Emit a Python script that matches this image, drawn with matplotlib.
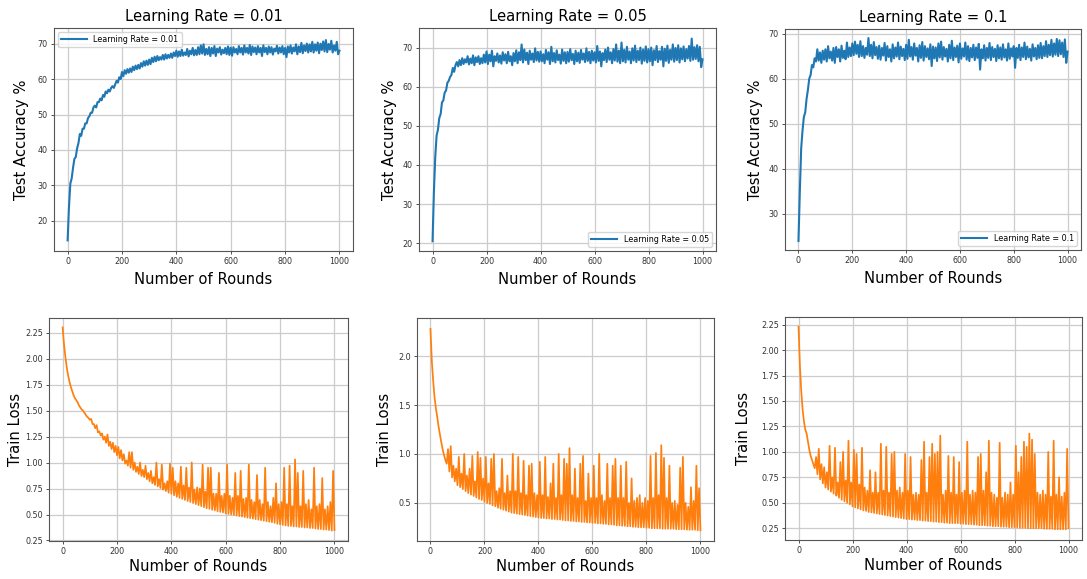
import numpy as np
import matplotlib
matplotlib.use("Agg")
import matplotlib.pyplot as plt

# rounds sampled every 5 rounds
rounds = list(range(0, 1001, 5))

learning_rates = ["0.01", "0.05", "0.1"]

# === Test accuracy (%) ===
acc_lr001 = [
    14.5, 24.0, 30.5, 32.0, 35.0, 37.5, 38.0, 40.5, 42.0, 44.5, 44.0, 46.0, 46.0, 47.5, 47.5, 49.0, 49.5, 50.5, 50.5, 52.0,
    52.5, 52.0, 53.5, 53.5, 54.5, 54.0, 55.5, 55.0, 56.5, 56.0, 57.0, 56.5, 57.5, 58.0, 57.5, 58.5, 59.5, 59.0, 60.5, 60.0,
    62.0, 60.8, 62.5, 61.5, 62.8, 61.8, 63.0, 62.0, 63.5, 62.5, 63.8, 62.8, 64.0, 63.0, 64.5, 63.5, 65.0, 63.8, 65.2, 64.0,
    65.5, 64.2, 66.0, 64.8, 66.3, 65.0, 66.5, 65.3, 66.2, 65.5, 66.8, 65.5, 67.0, 65.8, 66.8, 66.0, 67.2, 66.0, 67.5, 66.5,
    68.0, 66.3, 67.8, 66.5, 68.3, 66.6, 67.5, 66.8, 68.5, 66.4, 68.0, 67.0, 68.8, 66.7, 68.2, 66.8, 69.0, 67.0, 69.5, 67.2,
    69.8, 66.8, 68.5, 67.0, 69.0, 66.5, 68.8, 67.2, 69.3, 66.5, 68.6, 67.5, 69.0, 66.9, 68.3, 67.3, 68.8, 67.0, 69.2, 66.8,
    68.9, 66.6, 69.0, 67.5, 68.5, 67.0, 69.3, 67.5, 68.8, 66.9, 69.5, 67.5, 68.8, 67.2, 69.6, 66.8, 69.2, 67.6, 68.9, 67.0,
    69.3, 67.5, 68.8, 66.5, 69.5, 67.6, 68.8, 67.0, 69.2, 67.5, 69.0, 66.9, 68.6, 67.8, 69.4, 67.2, 68.9, 67.5, 69.3, 67.0,
    68.8, 66.2, 69.2, 67.5, 69.5, 67.2, 68.9, 67.8, 69.8, 67.0, 69.2, 67.6, 70.2, 67.3, 69.5, 67.9, 70.0, 67.5, 69.8, 67.8,
    70.5, 67.5, 69.8, 68.0, 70.3, 67.3, 70.0, 68.2, 70.6, 67.8, 71.0, 67.6, 69.9, 68.3, 70.8, 67.5, 69.5, 68.0, 70.5, 67.0,
    68.0,
]

acc_lr005 = [
    20.5, 33.0, 42.0, 47.5, 49.0, 52.0, 53.0, 56.0, 56.5, 58.5, 59.0, 61.0, 61.5, 62.5, 63.0, 64.8, 63.8, 65.5, 66.3, 65.2,
    66.8, 65.5, 67.3, 65.8, 67.0, 66.2, 67.8, 65.7, 67.2, 66.0, 68.0, 65.5, 67.5, 66.3, 67.8, 65.8, 67.3, 66.0, 68.2, 66.2,
    69.0, 65.8, 68.2, 66.5, 69.2, 65.2, 67.8, 66.6, 68.5, 66.2, 68.0, 65.9, 68.8, 66.7, 68.3, 66.0, 68.9, 66.5, 67.8, 65.5,
    68.6, 66.5, 69.3, 66.0, 68.8, 66.8, 70.8, 66.2, 69.5, 66.8, 68.7, 65.8, 69.2, 66.9, 68.5, 66.3, 69.8, 66.7, 68.9, 66.4,
    69.0, 66.5, 68.3, 66.0, 69.4, 66.9, 68.8, 65.8, 70.2, 66.5, 68.6, 66.2, 69.3, 66.8, 68.2, 65.9, 69.5, 66.6, 68.8, 66.0,
    68.9, 66.4, 69.6, 66.8, 68.4, 65.8, 69.2, 66.5, 68.7, 66.1, 69.4, 66.9, 68.5, 66.3, 69.8, 66.6, 68.9, 66.0, 69.2, 66.7,
    68.8, 66.2, 70.4, 66.6, 69.0, 65.2, 68.6, 66.8, 69.5, 66.3, 70.0, 66.9, 68.8, 66.0, 69.6, 66.7, 70.8, 66.4, 69.2, 66.0,
    71.3, 66.5, 69.4, 66.2, 70.2, 66.9, 69.0, 66.0, 69.8, 66.7, 70.5, 66.3, 69.2, 66.8, 70.0, 65.9, 69.5, 66.6, 70.3, 66.2,
    69.6, 66.5, 70.0, 65.5, 69.3, 66.8, 70.4, 66.3, 69.1, 66.9, 70.2, 65.2, 69.7, 66.6, 70.5, 66.1, 69.4, 66.9, 70.8, 66.4,
    69.9, 66.8, 70.6, 66.2, 69.8, 67.0, 70.3, 66.5, 69.6, 67.2, 70.4, 66.6, 72.3, 66.9, 70.1, 67.1, 70.6, 66.5, 70.2, 65.0,
    67.0,
]

acc_lr01 = [
    24.0, 35.0, 44.5, 48.5, 51.5, 52.5, 55.5, 57.5, 60.0, 60.8, 63.0, 62.5, 64.5, 63.8, 66.5, 64.0, 65.8, 63.5, 66.2, 64.2,
    66.5, 63.8, 67.2, 64.5, 66.0, 64.0, 66.8, 63.5, 67.0, 64.8, 66.5, 63.8, 67.3, 64.6, 66.2, 64.3, 68.0, 64.8, 66.9, 65.0,
    67.8, 65.2, 68.2, 65.5, 67.5, 64.8, 68.3, 65.0, 67.2, 64.6, 66.8, 65.3, 69.0, 65.0, 67.5, 64.5, 68.1, 65.2, 67.0, 64.4,
    67.3, 64.2, 66.8, 65.1, 67.9, 64.0, 67.2, 64.8, 66.5, 63.8, 67.6, 64.5, 66.9, 64.9, 68.0, 64.3, 67.1, 65.0, 66.6, 64.1,
    67.5, 64.4, 68.6, 64.9, 67.0, 64.2, 67.8, 65.1, 66.8, 63.8, 67.4, 64.6, 68.1, 64.0, 67.2, 64.8, 66.7, 64.3, 67.6, 62.8,
    67.1, 64.5, 66.9, 63.9, 67.8, 64.7, 68.2, 64.2, 67.0, 64.9, 66.6, 63.8, 67.5, 64.5, 68.4, 64.1, 66.9, 64.8, 67.3, 63.6,
    67.8, 64.4, 66.7, 64.9, 68.0, 64.2, 67.2, 63.9, 66.8, 64.7, 67.5, 64.1, 66.9, 64.6, 67.7, 62.0, 66.5, 64.5, 67.4, 64.0,
    66.8, 64.6, 67.9, 64.1, 67.0, 64.8, 66.6, 63.9, 67.4, 64.5, 66.9, 64.2, 67.6, 64.7, 66.5, 64.0, 67.8, 64.4, 66.7, 64.9,
    67.2, 62.4, 66.8, 64.6, 67.5, 64.1, 66.9, 64.8, 68.0, 64.3, 67.1, 64.7, 66.6, 64.0, 67.6, 64.9, 66.8, 64.3, 67.4, 64.6,
    67.9, 64.5, 67.2, 65.0, 68.3, 64.8, 67.5, 65.2, 68.6, 64.9, 67.8, 65.3, 68.8, 65.0, 68.5, 65.4, 68.0, 64.8, 68.7, 63.5,
    66.0,
]

# === Train loss ===
loss_lr001 = [
    2.30, 2.14, 2.02, 1.92, 1.84, 1.78, 1.73, 1.69, 1.65, 1.62, 1.60, 1.58, 1.55, 1.53, 1.51, 1.50, 1.48, 1.46, 1.44, 1.43,
    1.41, 1.42, 1.37, 1.37, 1.33, 1.36, 1.29, 1.30, 1.26, 1.28, 1.22, 1.25, 1.19, 1.27, 1.16, 1.20, 1.13, 1.19, 1.10, 1.16,
    1.07, 1.15, 1.04, 1.12, 1.02, 1.08, 0.99, 1.02, 0.97, 1.10, 0.95, 1.10, 0.93, 1.00, 0.91, 0.96, 0.89, 1.00, 0.87, 0.93,
    0.86, 0.97, 0.84, 0.90, 0.82, 0.92, 0.80, 0.86, 0.785, 1.00, 0.77, 0.84, 0.755, 0.98, 0.74, 0.80, 0.725, 0.82, 0.71, 0.99,
    0.70, 0.95, 0.685, 0.82, 0.67, 0.80, 0.66, 0.96, 0.65, 0.78, 0.64, 0.95, 0.63, 0.76, 0.62, 1.00, 0.61, 0.74, 0.60, 0.76,
    0.59, 0.75, 0.58, 0.98, 0.57, 0.72, 0.56, 0.95, 0.555, 0.95, 0.545, 0.70, 0.54, 0.70, 0.53, 0.90, 0.525, 0.68, 0.52, 0.70,
    0.51, 0.98, 0.505, 0.68, 0.50, 0.66, 0.495, 0.90, 0.49, 0.68, 0.485, 0.92, 0.48, 0.65, 0.475, 0.66, 0.47, 0.98, 0.465, 0.64,
    0.46, 0.62, 0.455, 0.88, 0.45, 0.64, 0.445, 0.60, 0.44, 0.95, 0.435, 0.62, 0.43, 0.58, 0.425, 0.66, 0.42, 0.80, 0.41, 0.60,
    0.405, 0.62, 0.40, 0.95, 0.395, 0.60, 0.39, 0.97, 0.39, 0.58, 0.385, 1.03, 0.385, 0.90, 0.38, 0.58, 0.38, 0.92, 0.375, 0.60,
    0.375, 0.64, 0.37, 0.55, 0.37, 0.95, 0.365, 0.58, 0.36, 0.60, 0.36, 0.85, 0.355, 0.55, 0.355, 0.58, 0.35, 0.62, 0.345, 0.92,
    0.35,
]

loss_lr005 = [
    2.28, 1.95, 1.75, 1.58, 1.47, 1.38, 1.28, 1.20, 1.12, 1.05, 0.99, 0.94, 0.90, 1.05, 0.82, 1.08, 0.76, 0.88, 0.72, 0.85,
    0.68, 0.97, 0.66, 0.80, 0.64, 1.00, 0.62, 0.78, 0.60, 0.85, 0.585, 0.98, 0.57, 0.72, 0.555, 1.02, 0.54, 0.96, 0.53, 0.75,
    0.51, 0.97, 0.50, 0.70, 0.49, 0.95, 0.475, 1.00, 0.465, 0.62, 0.45, 0.65, 0.44, 0.95, 0.43, 0.60, 0.42, 0.78, 0.41, 0.62,
    0.40, 1.00, 0.395, 0.62, 0.39, 0.97, 0.385, 0.60, 0.38, 0.93, 0.375, 0.58, 0.37, 0.88, 0.365, 0.90, 0.36, 0.60, 0.355, 0.58,
    0.35, 0.92, 0.345, 0.58, 0.345, 0.97, 0.34, 0.56, 0.34, 0.70, 0.335, 0.90, 0.335, 0.55, 0.33, 1.00, 0.33, 0.58, 0.325, 0.95,
    0.32, 0.90, 0.32, 1.06, 0.315, 0.58, 0.315, 0.85, 0.31, 0.55, 0.31, 0.90, 0.305, 0.98, 0.305, 0.52, 0.30, 0.80, 0.30, 0.55,
    0.295, 0.88, 0.295, 0.55, 0.29, 1.00, 0.29, 0.58, 0.285, 0.52, 0.285, 0.90, 0.28, 0.55, 0.28, 0.88, 0.275, 0.95, 0.27, 0.55,
    0.27, 0.88, 0.265, 0.55, 0.265, 0.92, 0.26, 0.50, 0.26, 0.75, 0.255, 0.52, 0.255, 0.55, 0.25, 0.58, 0.25, 0.50, 0.25, 0.55,
    0.245, 0.52, 0.245, 0.98, 0.24, 0.55, 0.24, 1.01, 0.24, 0.58, 0.24, 1.09, 0.235, 0.96, 0.235, 0.55, 0.235, 0.88, 0.235, 0.50,
    0.235, 0.52, 0.23, 0.48, 0.23, 0.86, 0.23, 0.97, 0.23, 0.50, 0.225, 0.46, 0.225, 0.66, 0.225, 0.52, 0.225, 0.88, 0.22, 0.65,
    0.22,
]

loss_lr01 = [
    2.23, 1.85, 1.60, 1.42, 1.30, 1.22, 1.18, 1.10, 1.02, 0.96, 0.92, 0.88, 0.84, 0.95, 0.78, 1.03, 0.73, 0.88, 0.69, 0.85,
    0.65, 0.80, 0.63, 1.06, 0.61, 0.75, 0.59, 1.04, 0.57, 0.70, 0.55, 0.90, 0.53, 1.00, 0.515, 0.72, 0.50, 1.11, 0.485, 0.70,
    0.465, 1.02, 0.455, 0.98, 0.445, 0.68, 0.435, 1.04, 0.425, 0.65, 0.42, 0.62, 0.41, 0.82, 0.405, 0.60, 0.40, 0.80, 0.395, 0.60,
    0.39, 1.08, 0.385, 0.62, 0.38, 1.05, 0.375, 0.60, 0.37, 0.98, 0.365, 1.00, 0.36, 0.62, 0.355, 0.65, 0.35, 0.60, 0.345, 0.98,
    0.34, 0.62, 0.34, 0.95, 0.335, 0.58, 0.335, 0.60, 0.33, 0.58, 0.33, 0.92, 0.325, 1.10, 0.325, 0.60, 0.32, 0.95, 0.32, 1.08,
    0.315, 0.98, 0.315, 1.00, 0.31, 1.16, 0.31, 0.58, 0.305, 0.62, 0.305, 0.96, 0.30, 0.60, 0.30, 0.95, 0.30, 0.58, 0.30, 0.90,
    0.295, 0.60, 0.295, 0.62, 0.29, 1.10, 0.29, 0.58, 0.29, 0.62, 0.285, 0.60, 0.285, 0.95, 0.28, 0.98, 0.28, 0.62, 0.28, 0.80,
    0.275, 1.11, 0.275, 0.60, 0.27, 0.58, 0.27, 0.55, 0.27, 1.09, 0.265, 0.55, 0.265, 0.60, 0.265, 0.58, 0.26, 0.70, 0.26, 0.58,
    0.26, 1.06, 0.26, 0.80, 0.255, 0.95, 0.255, 1.10, 0.255, 1.05, 0.25, 1.18, 0.25, 1.12, 0.25, 0.98, 0.25, 0.60, 0.25, 0.58,
    0.25, 0.62, 0.245, 0.58, 0.245, 1.00, 0.245, 0.56, 0.245, 1.11, 0.24, 0.58, 0.24, 0.75, 0.24, 0.56, 0.24, 0.60, 0.24, 1.03,
    0.25,
]

acc_series = [acc_lr001, acc_lr005, acc_lr01]
loss_series = [loss_lr001, loss_lr005, loss_lr01]

# panel boxes in figure fractions: [left, bottom, width, height]
acc_boxes = [[0.0497, 0.5665, 0.2751, 0.3851],
             [0.3855, 0.5665, 0.2732, 0.3851],
             [0.7222, 0.5682, 0.2723, 0.3817]]
loss_boxes = [[0.0451, 0.0656, 0.2751, 0.3851],
              [0.3836, 0.0656, 0.2732, 0.3851],
              [0.7222, 0.0674, 0.2732, 0.3851]]
acc_ylims = [(11.5, 74.4), (18.0, 75.0), (22.0, 71.0)]
loss_ylims = [(0.245, 2.39), (0.11, 2.39), (0.135, 2.325)]
acc_yticks = [[20, 30, 40, 50, 60, 70], [20, 30, 40, 50, 60, 70], [30, 40, 50, 60, 70]]
loss_yticks = [[0.25, 0.50, 0.75, 1.00, 1.25, 1.50, 1.75, 2.00, 2.25],
               [0.5, 1.0, 1.5, 2.0],
               [0.25, 0.50, 0.75, 1.00, 1.25, 1.50, 1.75, 2.00, 2.25]]
legend_locs = ["upper left", "lower right", "lower right"]
acc_ylabelpads = [6, 4, 4]
loss_ylabelpads = [1.5, 4.5, 7]

label_size = 10.6
tick_size = 5.8

def style_axes(ax):
    ax.grid(True, color="#cccccc", linewidth=0.9)
    ax.set_axisbelow(True)
    ax.tick_params(labelsize=tick_size, colors="#333333", length=2.5, width=0.6, pad=2)
    for sp in ax.spines.values():
        sp.set_color("#555555")
        sp.set_linewidth(0.8)
    ax.set_xlim(-50, 1050)
    ax.set_xticks([0, 200, 400, 600, 800, 1000])

fig = plt.figure(figsize=(10.87, 5.79), dpi=100)

for i in range(3):
    # top row: test accuracy
    ax = fig.add_axes(acc_boxes[i])
    ax.plot(rounds, acc_series[i], color="#1f77b4", linewidth=1.5,
            label=f"Learning Rate = {learning_rates[i]}")
    style_axes(ax)
    ax.set_ylim(*acc_ylims[i])
    ax.set_yticks(acc_yticks[i])
    ax.set_title(f"Learning Rate = {learning_rates[i]}", fontsize=label_size, pad=5)
    ax.set_xlabel("Number of Rounds", fontsize=label_size, labelpad=4)
    ax.set_ylabel("Test Accuracy %", fontsize=label_size, labelpad=acc_ylabelpads[i])
    ax.legend(loc=legend_locs[i], fontsize=tick_size, handlelength=3.2)

    # bottom row: train loss
    ax2 = fig.add_axes(loss_boxes[i])
    ax2.plot(rounds, loss_series[i], color="#ff7f0e", linewidth=1.25)
    style_axes(ax2)
    ax2.set_ylim(*loss_ylims[i])
    ax2.set_yticks(loss_yticks[i])
    if i == 1:
        ax2.set_yticklabels([f"{v:.1f}" for v in loss_yticks[i]])
    else:
        ax2.set_yticklabels([f"{v:.2f}" for v in loss_yticks[i]])
    ax2.set_xlabel("Number of Rounds", fontsize=label_size, labelpad=2)
    ax2.set_ylabel("Train Loss", fontsize=label_size, labelpad=loss_ylabelpads[i])

fig.savefig("out.png", dpi=100, facecolor="white")
